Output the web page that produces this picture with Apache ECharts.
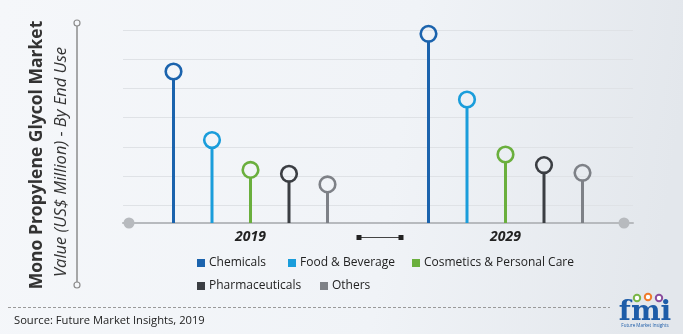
<!DOCTYPE html>
<html>
<head>
<meta charset="utf-8">
<script src="https://cdn.jsdelivr.net/npm/echarts@6/dist/echarts.min.js"></script>
<style>
  html, body { margin: 0; padding: 0; }
  #chart { width: 683px; height: 334px; }
</style>
</head>
<body>
<div id="chart"></div>
<script>
// Market value by end use, US$ Million
const years = ['2019', '2029'];
const endUses = ['Chemicals', 'Food & Beverage', 'Cosmetics & Personal Care', 'Pharmaceuticals', 'Others'];
const chemicals = [157, 196];
const foodBeverage = [86, 128];
const cosmeticsCare = [55, 71];
const pharmaceuticals = [51, 60];
const others = [40, 52];

const seriesValues = [chemicals, foodBeverage, cosmeticsCare, pharmaceuticals, others];
const colors = ['#1b63ad', '#1a9ddb', '#6aaf3d', '#3b3e43', '#7e8187'];
const FONT = "'Open Sans', sans-serif";
const STEP = 38.5; // horizontal spacing between stems inside a year group

// Lollipop: a stem from the baseline with a hollow ring on top
function renderStem(offset, color) {
  return function (params, api) {
    const cat = api.value(0);
    const top = api.coord([cat, api.value(1)]);
    const base = api.coord([cat, 0]);
    const x = top[0] + offset;
    const r = 7.8;
    return {
      type: 'group',
      children: [
        { type: 'line', shape: { x1: x, y1: base[1], x2: x, y2: top[1] + r },
          style: { stroke: color, lineWidth: 3 } },
        { type: 'circle', shape: { cx: x, cy: top[1], r: r },
          style: { fill: 'rgba(255,255,255,0)', stroke: color, lineWidth: 2.6 } }
      ]
    };
  };
}

const series = endUses.map((name, i) => ({
  name: name,
  type: 'custom',
  xAxisIndex: 0,
  yAxisIndex: 0,
  itemStyle: { color: colors[i] },
  renderItem: renderStem((i - 2) * STEP, colors[i]),
  data: years.map((y, k) => [k, seriesValues[i][k]]),
  z: 3
}));

// One legend block per entry so the two rows line up as drawn
const legendSpots = [[197, 257], [288, 257], [412, 257], [197, 280], [320, 280]];
const legends = endUses.map((name, i) => ({
  data: [name],
  left: legendSpots[i][0],
  top: legendSpots[i][1],
  padding: 0,
  icon: 'rect',
  itemWidth: 8,
  itemHeight: 8,
  itemGap: 4,
  selectedMode: false,
  textStyle: { fontFamily: FONT, fontSize: 12, color: '#222', padding: [0, 0, 0, -1] }
}));

const chart = echarts.init(document.getElementById('chart'), null, { renderer: 'canvas' });
chart.setOption({
  backgroundColor: {
    type: 'linear', x: 0, y: 0, x2: 1, y2: 0.3,
    colorStops: [
      { offset: 0, color: '#f5f7fa' },
      { offset: 0.6, color: '#f0f3f7' },
      { offset: 1, color: '#e3e7ec' }
    ]
  },
  animation: false,
  grid: { left: 123, right: 50, top: 30, bottom: 111 },
  legend: legends,
  xAxis: {
    type: 'category',
    data: years,
    boundaryGap: true,
    axisLine: {
      show: true,
      symbol: ['circle', 'circle'],
      symbolSize: [11, 11],
      symbolOffset: [6, -9],
      lineStyle: { color: '#b7babe', width: 2 }
    },
    axisTick: { show: false },
    axisLabel: {
      fontFamily: FONT, fontSize: 14, fontWeight: 'bold', fontStyle: 'italic',
      color: '#222', margin: 7
    }
  },
  yAxis: [
    { type: 'value', min: 0, max: 200, show: false },
    {
      // background guide lines
      type: 'value', inverse: true, min: 0, max: 6.6, interval: 1,
      axisLine: { show: false }, axisTick: { show: false }, axisLabel: { show: false },
      splitLine: { show: true, lineStyle: { color: '#dfe2e6', width: 1.2 } }
    }
  ],
  series: series,
  graphic: [
    // vertical titles
    { type: 'text', x: 37, y: 155, rotation: Math.PI / 2,
      style: { text: 'Mono Propylene Glycol Market', font: "bold 17.5px " + FONT, fill: '#333',
               align: 'center', verticalAlign: 'middle' } },
    { type: 'text', x: 61, y: 162, rotation: Math.PI / 2,
      style: { text: 'Value (US$ Million) - By End Use', font: "italic 16.5px " + FONT, fill: '#333',
               align: 'center', verticalAlign: 'middle' } },
    { type: 'line', shape: { x1: 77, y1: 26, x2: 77, y2: 282 },
      style: { stroke: '#8c8c8c', lineWidth: 1.5 } },
    { type: 'circle', shape: { cx: 77, cy: 23, r: 3 },
      style: { fill: '#f5f7fa', stroke: '#8c8c8c', lineWidth: 1.2 } },
    { type: 'circle', shape: { cx: 77, cy: 285, r: 3 },
      style: { fill: '#f5f7fa', stroke: '#8c8c8c', lineWidth: 1.2 } },
    // axis break marker between the two years
    { type: 'line', shape: { x1: 361, y1: 237.5, x2: 399, y2: 237.5 },
      style: { stroke: '#444', lineWidth: 1 } },
    { type: 'rect', shape: { x: 356.5, y: 235, width: 5, height: 5 }, style: { fill: '#222' } },
    { type: 'rect', shape: { x: 398.5, y: 235, width: 5, height: 5 }, style: { fill: '#222' } },
    // footer
    { type: 'line', shape: { x1: 8, y1: 307.5, x2: 610, y2: 307.5 },
      style: { stroke: '#9a9a9a', lineWidth: 1, lineDash: [3, 2] } },
    { type: 'text', x: 14, y: 321,
      style: { text: 'Source: Future Market Insights, 2019', font: "11.2px " + FONT, fill: '#222',
               verticalAlign: 'middle' } },
    // logo
    { type: 'circle', shape: { cx: 637, cy: 298, r: 3.2 }, style: { fill: '#fff', stroke: '#7ab648', lineWidth: 2 } },
    { type: 'circle', shape: { cx: 648, cy: 297, r: 3.2 }, style: { fill: '#fff', stroke: '#f07b2b', lineWidth: 2 } },
    { type: 'circle', shape: { cx: 659, cy: 298, r: 3.2 }, style: { fill: '#fff', stroke: '#8a4d9e', lineWidth: 2 } },
    { type: 'text', x: 645, y: 313,
      style: { text: 'fmi', font: "bold 28px 'DejaVu Serif', serif", fill: '#1d5ca8',
               align: 'center', verticalAlign: 'middle' } },
    { type: 'text', x: 645, y: 326,
      style: { text: 'Future Market Insights', font: "4.5px " + FONT, fill: '#1d5ca8',
               align: 'center', verticalAlign: 'middle' } }
  ]
});
</script>
</body>
</html>
